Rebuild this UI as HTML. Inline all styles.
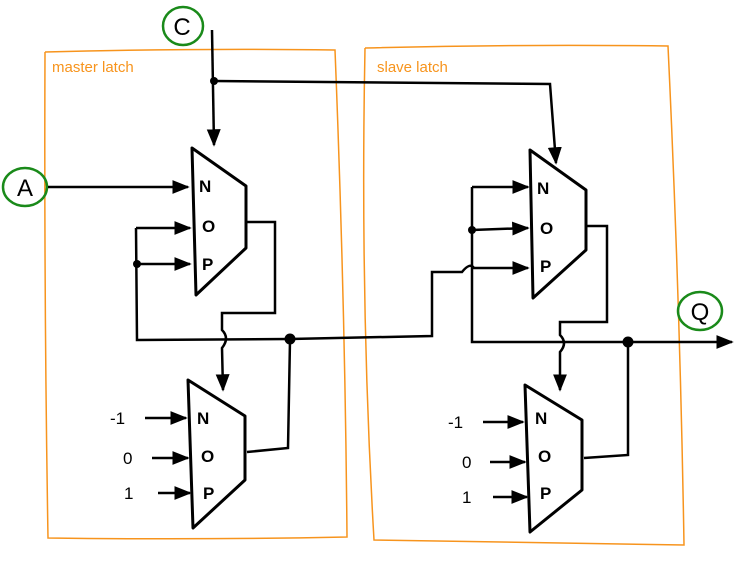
<!DOCTYPE html>
<html><head><meta charset="utf-8"><style>
html,body{margin:0;padding:0;background:#fff;width:738px;height:561px;overflow:hidden}
svg{display:block}
text{font-family:"Liberation Sans",sans-serif}
</style></head><body>
<svg width="738" height="561" viewBox="0 0 738 561">
<defs>
<marker id="ar" viewBox="0 0 10 10" refX="9" refY="5" markerWidth="7" markerHeight="7" orient="auto"><path d="M0,1 L10,5 L0,9 z" fill="#000"/></marker>
</defs>
<g fill="none" stroke="#f7941d" stroke-width="1.5">
<path d="M45,52 Q200,48 335,50 Q345,300 347,537 Q200,540 48,538 Q44,300 45,52"/>
<path d="M365,48 Q520,44 668,46 Q680,300 684,545 Q520,543 374,540 Q360,300 365,48"/>
</g>
<text x="52" y="72" fill="#f7941d" font-size="15">master latch</text>
<text x="377" y="72" fill="#f7941d" font-size="15">slave latch</text>
<g fill="none" stroke="#1a8a1a" stroke-width="2.5">
<ellipse cx="183" cy="26" rx="20" ry="19"/>
<ellipse cx="25" cy="187" rx="22" ry="19"/>
<ellipse cx="700" cy="311" rx="22" ry="19"/>
</g>
<g font-size="24" fill="#000" text-anchor="middle">
<text x="182" y="35">C</text>
<text x="25" y="196">A</text>
<text x="700" y="320">Q</text>
</g>
<g fill="none" stroke="#000" stroke-width="3" stroke-linejoin="round">
<path d="M192,148 L246,186 L246,248 L196,295 Z"/>
<path d="M188,380 L245,416 L245,480 L193,528 Z"/>
<path d="M530,150 L586,190 L586,250 L533,298 Z"/>
<path d="M525,385 L582,420 L582,490 L530,532 Z"/>
</g>
<g fill="none" stroke="#000" stroke-width="2.5">
<path d="M212,30 L214,145" marker-end="url(#ar)"/>
<path d="M214,81 L550,84 L556,163" marker-end="url(#ar)"/>
<path d="M48,187 L188,187" marker-end="url(#ar)"/>
<path d="M136,228 L190,228" marker-end="url(#ar)"/>
<path d="M136,228 L137,340 L290,339 L432,336 L432,272 L462,272 Q470,262 474,268 L528,268" marker-end="url(#ar)"/>
<path d="M137,264 L190,264" marker-end="url(#ar)"/>
<path d="M247,222 L275,222 L275,313 L222,313 L222,330 Q230,338 222,348 L223,390" marker-end="url(#ar)"/>
<path d="M247,452 L288,448 L290,340"/>
<path d="M145,418 L186,418" marker-end="url(#ar)"/>
<path d="M152,458 L188,458" marker-end="url(#ar)"/>
<path d="M158,493 L190,493" marker-end="url(#ar)"/>
<path d="M472,187 L528,187" marker-end="url(#ar)"/>
<path d="M472,187 L472,342 L628,342 L732,342" marker-end="url(#ar)"/>
<path d="M472,230 L528,228" marker-end="url(#ar)"/>
<path d="M586,226 L607,226 L607,322 L560,322 L560,335 Q568,343 560,352 L560,390" marker-end="url(#ar)"/>
<path d="M584,458 L628,455 L628,342"/>
<path d="M483,422 L523,422" marker-end="url(#ar)"/>
<path d="M490,462 L525,462" marker-end="url(#ar)"/>
<path d="M493,497 L527,497" marker-end="url(#ar)"/>
</g>
<g fill="#000">
<circle cx="214" cy="81" r="4"/><circle cx="137" cy="264" r="4"/><circle cx="290" cy="339" r="5.5"/>
<circle cx="472" cy="230" r="4"/><circle cx="628" cy="342" r="5.5"/>
</g>
<g font-size="17" fill="#000" font-weight="bold">
<text x="199" y="192">N</text><text x="202" y="232">O</text><text x="202" y="270">P</text>
<text x="197" y="424">N</text><text x="201" y="462">O</text><text x="203" y="499">P</text>
<text x="537" y="194">N</text><text x="540" y="234">O</text><text x="540" y="272">P</text>
<text x="535" y="424">N</text><text x="538" y="462">O</text><text x="540" y="499">P</text>
</g>
<g font-size="17" fill="#000">
<text x="110" y="424">-1</text><text x="123" y="464">0</text><text x="124" y="499">1</text>
<text x="448" y="428">-1</text><text x="462" y="468">0</text><text x="462" y="503">1</text>
</g>
</svg>
</body></html>
